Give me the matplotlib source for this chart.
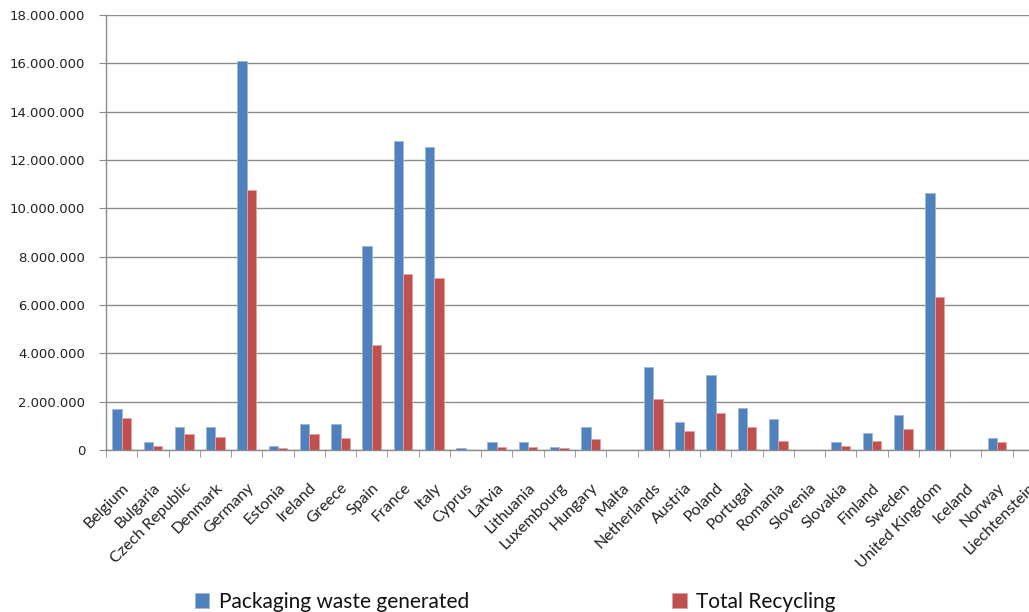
import matplotlib
matplotlib.use("Agg")
import matplotlib.pyplot as plt
import numpy as np
from matplotlib.ticker import FuncFormatter, MultipleLocator, FixedLocator

countries = ["Belgium", "Bulgaria", "Czech Republic", "Denmark", "Germany", "Estonia",
             "Ireland", "Greece", "Spain", "France", "Italy", "Cyprus", "Latvia",
             "Lithuania", "Luxembourg", "Hungary", "Malta", "Netherlands", "Austria",
             "Poland", "Portugal", "Romania", "Slovenia", "Slovakia", "Finland",
             "Sweden", "United Kingdom", "Iceland", "Norway", "Liechtenstein"]
# values in tonnes
waste_generated = [1680000, 330000, 950000, 950000, 16100000, 165000,
                   1060000, 1060000, 8440000, 12780000, 12540000, 80000, 330000,
                   330000, 120000, 950000, 0, 3430000, 1160000,
                   3100000, 1720000, 1270000, 0, 330000, 700000,
                   1440000, 10630000, 0, 480000, 0]
total_recycling = [1310000, 165000, 650000, 540000, 10760000, 70000,
                   650000, 480000, 4340000, 7280000, 7120000, 20000, 120000,
                   120000, 80000, 440000, 0, 2100000, 800000,
                   1530000, 950000, 390000, 0, 165000, 390000,
                   860000, 6330000, 0, 330000, 0]

blue = "#4F81BD"
red = "#C0504D"

fig = plt.figure(figsize=(10.29, 6.12), dpi=100)
ax = fig.add_axes([106/1029, 162/612, 1 - 106/1029, 435/612])

n = len(countries)
x = np.arange(n)
w = 0.3
ax.bar(x - w/2, waste_generated, w, color=blue, edgecolor="#9DB6DA", linewidth=0.6,
       label="Packaging waste generated", zorder=3)
ax.bar(x + w/2, total_recycling, w, color=red, edgecolor="#E0A4A2", linewidth=0.6,
       label="Total Recycling", zorder=3)

ax.set_ylim(0, 18000000)
ax.set_xlim(-0.5, n - 1.5 + 0.52)
ax.yaxis.set_major_locator(MultipleLocator(2000000))
ax.yaxis.set_major_formatter(FuncFormatter(lambda v, p: "0" if v == 0 else f"{int(v):,}".replace(",", ".")))
ax.grid(axis="y", color="#8C8C8C", linewidth=1.0, zorder=0)

for s in ["top", "right"]:
    ax.spines[s].set_visible(False)
ax.spines["left"].set_color("#8C8C8C")
ax.spines["bottom"].set_color("#8C8C8C")
ax.spines["left"].set_linewidth(1.0)
ax.spines["bottom"].set_linewidth(1.0)

ax.tick_params(axis="y", length=5, color="#8C8C8C", labelsize=9.5, labelcolor="#222222", pad=10)
for lbl in ax.get_yticklabels():
    lbl.set_family("DejaVu Sans")

ax.set_xticks(x)
ax.set_xticklabels(countries, rotation=45, ha="right", va="top", rotation_mode="anchor",
                   family=["Lato", "DejaVu Sans"], fontsize=11.5, color="#222222")
ax.tick_params(axis="x", which="major", length=0, pad=22)
ax.xaxis.set_minor_locator(FixedLocator(np.arange(n + 1) - 0.5))
ax.tick_params(axis="x", which="minor", length=5, color="#8C8C8C")

leg = fig.legend(loc="lower left", bbox_to_anchor=(176/1029, -0.03), ncol=2,
                 frameon=False, handlelength=0.7, handleheight=0.7, handletextpad=0.45,
                 columnspacing=9.75,
                 prop={"family": ["Liberation Sans Narrow", "Lato"], "size": 15})
for t in leg.get_texts():
    t.set_color("#111111")

fig.savefig("out.png", dpi=100)
